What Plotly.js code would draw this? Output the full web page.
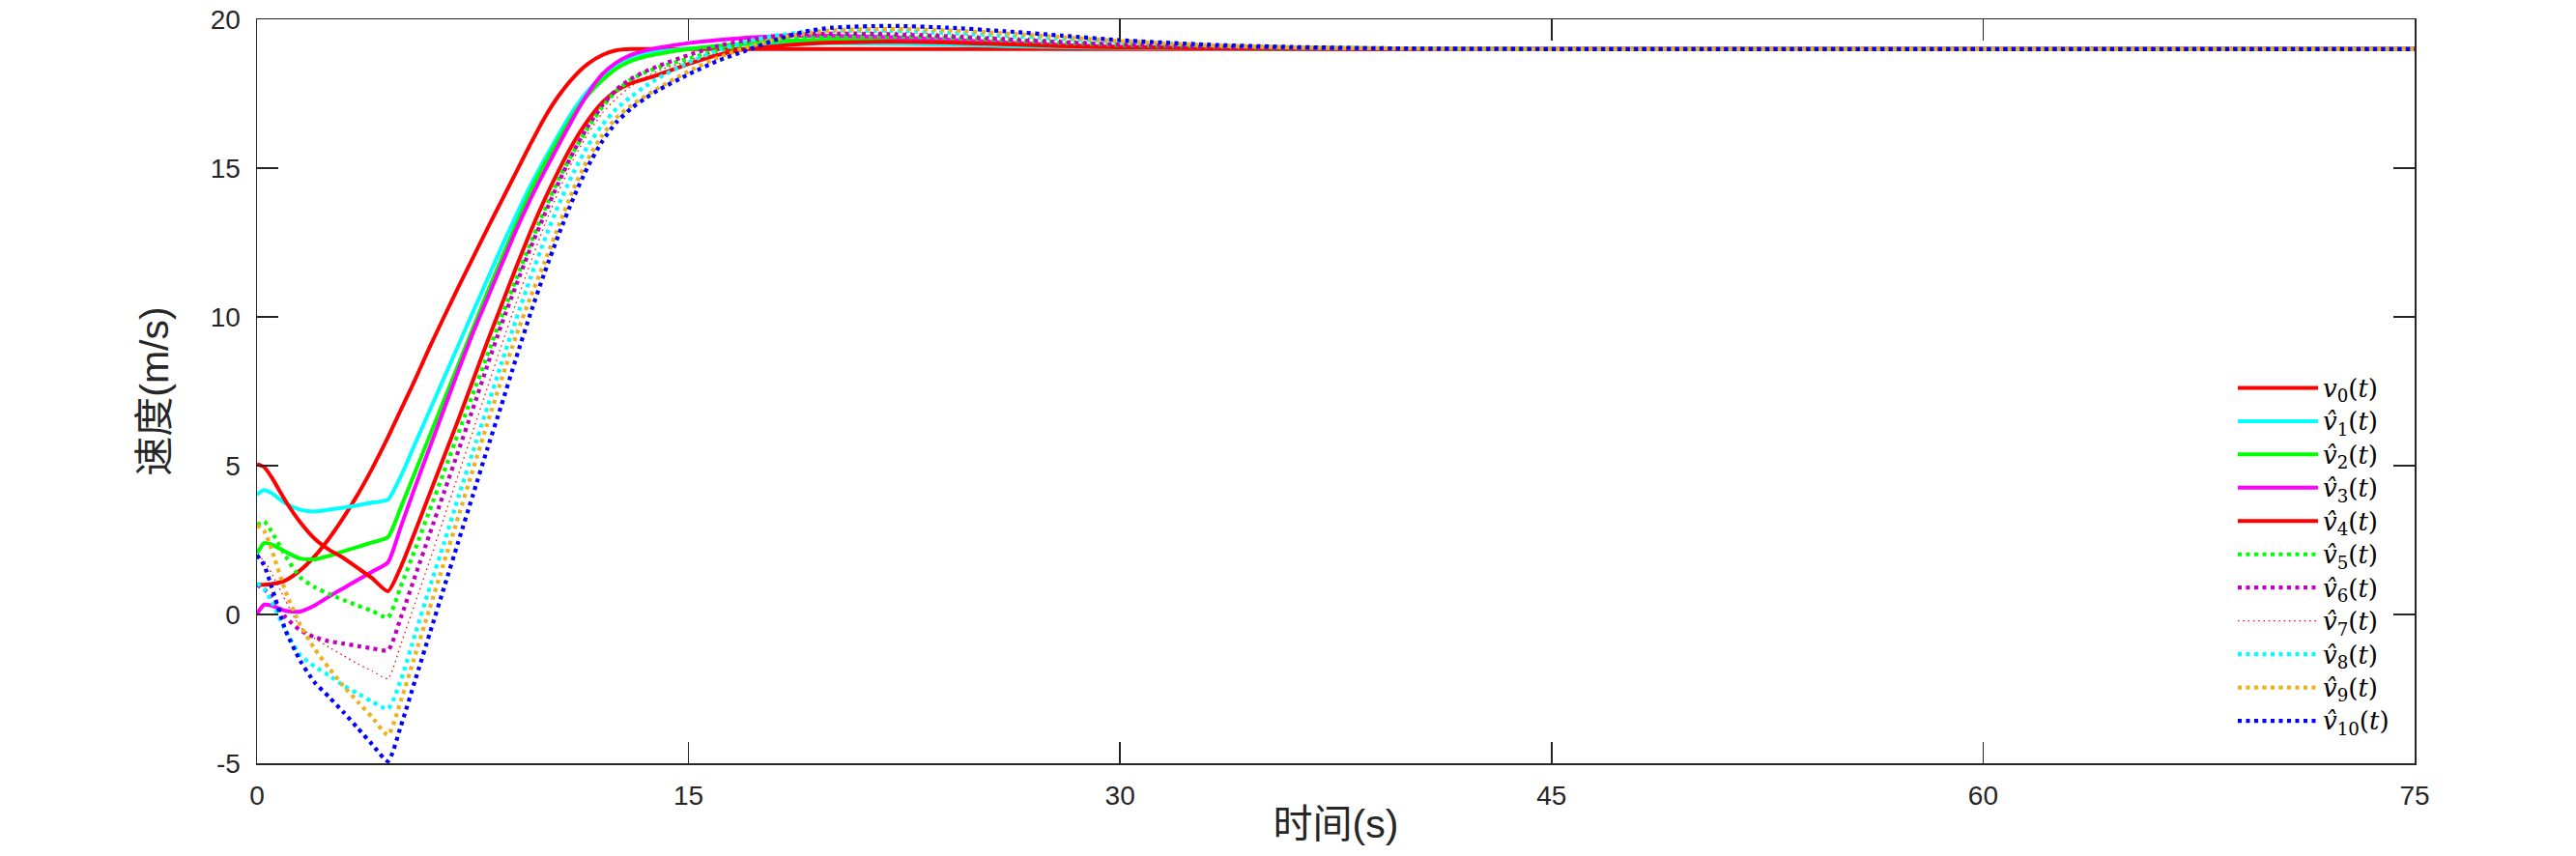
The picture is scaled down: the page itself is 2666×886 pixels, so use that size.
<!DOCTYPE html>
<html>
<head>
<meta charset="utf-8">
<script src="https://cdn.plot.ly/plotly-3.0.1.min.js"></script>
<style>
html,body{margin:0;padding:0;background:#ffffff;}
#chart{width:2666px;height:886px;}
</style>
</head>
<body>
<div id="chart"></div>
<script>
// ---- data ----
const time = [0,0.25,0.5,1,1.5,2,2.5,3,3.5,4,4.55,5,5.5,6,6.5,7,7.5,8,8.5,9,9.5,10,10.5,11,11.5,12,12.5,13,13.5,14,15,16,17,18,19,20,22,24,26,28,30,33,36,40,45,50,60,75];

const v0  = [1.0,1.0,1.02,1.15,1.48,1.95,2.55,3.25,4.03,4.9,5.95,6.88,7.9,8.98,10.0,11.0,11.98,12.95,13.9,14.85,15.8,16.7,17.45,18.05,18.5,18.8,18.96,19.0,19.0,19.0,19.0,19.0,19.0,19.0,19.0,19.0,19.0,19.0,19.0,19.0,19.0,19.0,19.0,19.0,19.0,19.0,19.0,19.0];
const v1  = [4.03,4.18,4.08,3.73,3.52,3.46,3.52,3.59,3.67,3.76,3.86,4.65,5.75,6.85,7.95,9.05,10.15,11.25,12.35,13.4,14.4,15.3,16.15,16.95,17.6,18.1,18.5,18.72,18.84,18.92,19.02,19.1,19.15,19.18,19.2,19.2,19.18,19.15,19.1,19.07,19.04,19.02,19.01,19.0,19.0,19.0,19.0,19.0];
const v2  = [2.05,2.4,2.36,2.1,1.88,1.85,1.97,2.12,2.27,2.42,2.6,3.6,4.8,6.0,7.2,8.4,9.6,10.8,11.95,13.1,14.2,15.15,16.0,16.8,17.45,17.95,18.35,18.6,18.75,18.85,19.0,19.1,19.2,19.26,19.3,19.32,19.3,19.24,19.17,19.11,19.07,19.03,19.01,19.0,19.0,19.0,19.0,19.0];
const v3  = [0.02,0.33,0.3,0.12,0.1,0.3,0.6,0.88,1.16,1.44,1.75,2.95,4.3,5.6,6.9,8.2,9.45,10.6,11.75,12.9,13.95,14.9,15.8,16.7,17.5,18.15,18.55,18.8,18.95,19.05,19.2,19.3,19.38,19.43,19.45,19.45,19.4,19.32,19.22,19.14,19.08,19.04,19.02,19.0,19.0,19.0,19.0,19.0];
const v4  = [5.05,4.95,4.62,3.8,3.1,2.55,2.18,1.9,1.56,1.22,0.78,1.6,2.8,4.05,5.3,6.55,7.85,9.15,10.4,11.65,12.85,13.95,14.95,15.85,16.6,17.2,17.6,17.85,18.0,18.15,18.5,18.8,19.0,19.1,19.17,19.22,19.25,19.22,19.16,19.1,19.06,19.03,19.01,19.0,19.0,19.0,19.0,19.0];
const v5  = [3.0,3.12,2.8,1.95,1.25,0.92,0.69,0.49,0.3,0.12,-0.1,0.95,2.2,3.5,4.8,6.1,7.4,8.7,10.0,11.25,12.45,13.6,14.65,15.55,16.35,17.05,17.6,17.98,18.22,18.4,18.68,18.95,19.15,19.3,19.38,19.42,19.43,19.38,19.3,19.21,19.14,19.08,19.04,19.02,19.0,19.0,19.0,19.0];
const v6  = [1.0,0.85,0.6,-0.1,-0.53,-0.76,-0.9,-0.98,-1.06,-1.14,-1.2,-0.1,1.3,2.7,4.1,5.5,6.9,8.35,9.75,11.05,12.3,13.45,14.55,15.55,16.4,17.1,17.65,18.0,18.25,18.45,18.8,19.1,19.3,19.43,19.5,19.52,19.5,19.43,19.33,19.23,19.15,19.08,19.04,19.01,19.0,19.0,19.0,19.0];
const v7  = [2.0,1.8,1.4,0.45,-0.42,-0.8,-1.1,-1.38,-1.66,-1.9,-2.15,-1.0,0.4,1.8,3.25,4.7,6.15,7.6,9.05,10.45,11.8,13.1,14.25,15.3,16.15,16.85,17.35,17.75,18.05,18.3,18.6,18.95,19.2,19.38,19.5,19.56,19.57,19.5,19.4,19.3,19.2,19.1,19.05,19.02,19.0,19.0,19.0,19.0];
const v8  = [1.05,0.85,0.45,-0.55,-1.36,-1.75,-2.05,-2.39,-2.65,-2.93,-3.17,-2.2,-0.65,0.9,2.4,3.95,5.45,6.95,8.45,9.9,11.3,12.6,13.8,14.85,15.75,16.45,17.0,17.4,17.75,18.05,18.55,18.95,19.25,19.45,19.57,19.62,19.62,19.55,19.45,19.35,19.25,19.13,19.06,19.02,19.0,19.0,19.0,19.0];
const v9  = [3.0,2.8,2.2,0.75,-0.35,-1.15,-1.8,-2.4,-2.93,-3.45,-4.05,-2.9,-1.35,0.2,1.75,3.3,4.85,6.4,7.9,9.35,10.65,11.85,13.1,14.3,15.3,16.1,16.7,17.1,17.42,17.72,18.25,18.7,19.05,19.32,19.52,19.63,19.68,19.63,19.53,19.4,19.27,19.13,19.06,19.02,19.0,19.0,19.0,19.0];
const v10 = [2.0,1.65,0.95,-0.55,-1.55,-2.28,-2.77,-3.28,-3.82,-4.36,-4.93,-3.75,-2.2,-0.65,0.9,2.45,4.0,5.55,7.05,8.6,10.1,11.5,12.8,14.0,15.05,15.9,16.55,17.0,17.35,17.65,18.15,18.6,18.95,19.3,19.58,19.72,19.78,19.72,19.6,19.45,19.3,19.15,19.07,19.02,19.0,19.0,19.0,19.0];

const seriesLabels = [
  '<i>v</i><sub>0</sub>(<i>t</i>)',
  '<i>v\u0302</i><sub>1</sub>(<i>t</i>)',
  '<i>v\u0302</i><sub>2</sub>(<i>t</i>)',
  '<i>v\u0302</i><sub>3</sub>(<i>t</i>)',
  '<i>v\u0302</i><sub>4</sub>(<i>t</i>)',
  '<i>v\u0302</i><sub>5</sub>(<i>t</i>)',
  '<i>v\u0302</i><sub>6</sub>(<i>t</i>)',
  '<i>v\u0302</i><sub>7</sub>(<i>t</i>)',
  '<i>v\u0302</i><sub>8</sub>(<i>t</i>)',
  '<i>v\u0302</i><sub>9</sub>(<i>t</i>)',
  '<i>v\u0302</i><sub>10</sub>(<i>t</i>)'
];
const xTickVals = [0,15,30,45,60,75];
const xTickText = ['0','15','30','45','60','75'];
const yTickVals = [-5,0,5,10,15,20];
const yTickText = ['-5','0','5','10','15','20'];
const xTitle = '时间(s)';
const yTitle = '速度(m/s)';

// ---- styles ----
const seriesValues = [v0,v1,v2,v3,v4,v5,v6,v7,v8,v9,v10];
const styles = [
  {color:'#FF0000', width:4,   dash:'solid'},
  {color:'#00FFFF', width:4,   dash:'solid'},
  {color:'#00FF00', width:4,   dash:'solid'},
  {color:'#FF00FF', width:4,   dash:'solid'},
  {color:'#FF0000', width:4,   dash:'solid'},
  {color:'#00FF00', width:4.2, dash:'4px,4.5px'},
  {color:'#BF00BF', width:4.2, dash:'4px,4.5px'},
  {color:'#FF0000', width:1.3, dash:'1.5px,3.8px'},
  {color:'#00FFFF', width:4.2, dash:'4px,4.5px'},
  {color:'#EDB120', width:4.2, dash:'4px,4.5px'},
  {color:'#0000FF', width:4.2, dash:'4px,4.5px'}
];
const legendTextSize = 26;

const traces = seriesValues.map((vals, i) => ({
  x: time,
  y: vals,
  type: 'scatter',
  mode: 'lines',
  name: '<span style="font-size:' + legendTextSize + 'px">' + seriesLabels[i] + '</span>',
  legendgroup: 'g' + i,
  line: {color: styles[i].color, width: styles[i].width, dash: styles[i].dash, shape: 'spline', smoothing: 0.6},
  hoverinfo: 'skip'
}));

const axisColor = '#262626';
const tickFont = {family: 'Liberation Sans, Arial, Helvetica, sans-serif', size: 28, color: axisColor};
const titleFont = {family: 'Liberation Sans, Noto Sans CJK SC, sans-serif', size: 41, color: axisColor};

const layout = {
  width: 2666,
  height: 886,
  paper_bgcolor: '#ffffff',
  plot_bgcolor: '#ffffff',
  margin: {l: 266, r: 167, t: 20, b: 96, pad: 0},
  showlegend: true,
  legend: {
    x: 0.9158, xanchor: 'left',
    y: 0.5335, yanchor: 'top',
    bgcolor: 'rgba(255,255,255,0)',
    borderwidth: 0,
    font: {family: 'DejaVu Serif, Liberation Serif, serif', size: 24.2, color: '#000000'},
    tracegroupgap: 0,
    itemwidth: 83
  },
  xaxis: {
    range: [0, 75],
    tickmode: 'array',
    tickvals: xTickVals,
    ticktext: xTickText,
    ticks: 'inside',
    ticklen: 22,
    tickwidth: 1.5,
    tickcolor: axisColor,
    showline: true,
    linecolor: axisColor,
    linewidth: 1.5,
    mirror: 'ticks',
    showgrid: false,
    zeroline: false,
    tickfont: tickFont,
    ticklabelstandoff: 8,
    title: {text: xTitle, font: titleFont, standoff: 0}
  },
  yaxis: {
    range: [-5, 20],
    tickmode: 'array',
    tickvals: yTickVals,
    ticktext: yTickText,
    ticks: 'inside',
    ticklen: 22,
    tickwidth: 1.5,
    tickcolor: axisColor,
    showline: true,
    linecolor: axisColor,
    linewidth: 1.5,
    mirror: 'ticks',
    showgrid: false,
    zeroline: false,
    tickfont: tickFont,
    ticklabelstandoff: 10,
    title: {text: yTitle, font: titleFont, standoff: 30}
  }
};

Plotly.newPlot('chart', traces, layout, {staticPlot: true, displayModeBar: false});
</script>
</body>
</html>
